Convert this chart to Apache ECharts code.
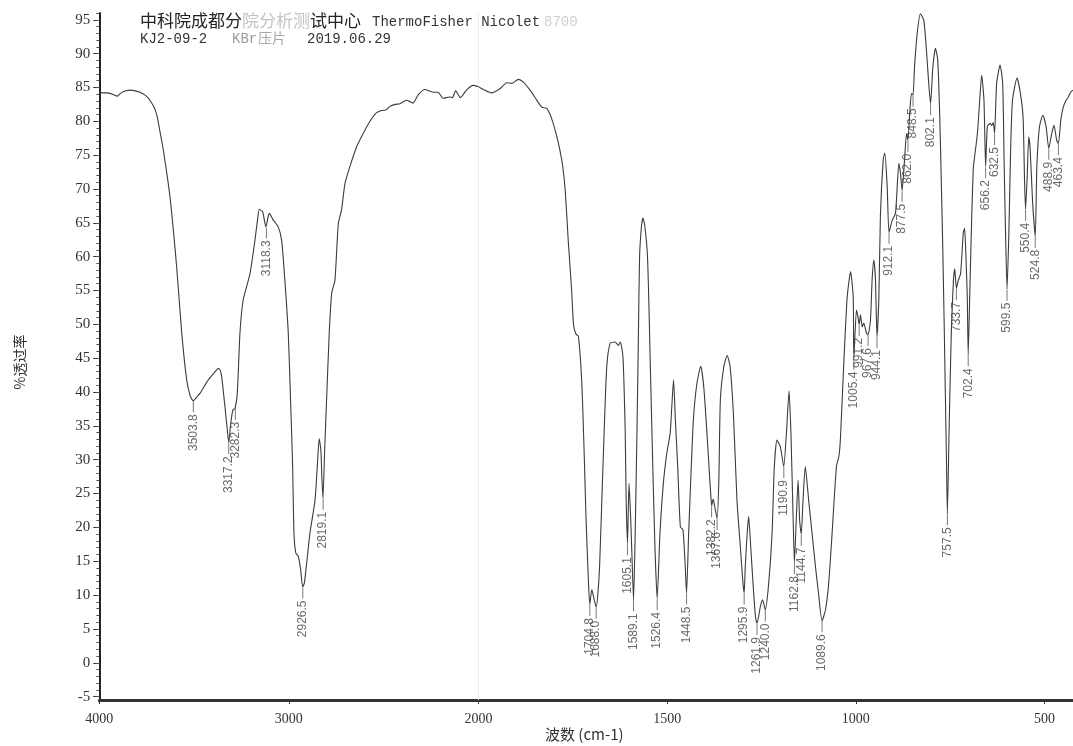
<!DOCTYPE html>
<html><head><meta charset="utf-8">
<script src="https://cdn.jsdelivr.net/npm/echarts@6/dist/echarts.min.js"></script>
<style>html,body{margin:0;padding:0;background:#fff}#c{width:1073px;height:746px}</style>
</head><body><div id="c"></div>
<script>
// Wavenumber (cm-1) and % transmittance
const wavenumbers = [
4000,3985,3960,3930,3905,3885,3860,3838,3810,3785,3760,3740,3733,3715,3697,3680,3662,3627,3592,3565,3539,3520,3504,3485,3469,3445,3425,3395,3372,3362,3354,3337,3325,3317,3308,3296,3284,3272,3258,3241,3205,3179,3165,3156,3138,3121,3110,3103,3082,3056,3038,3021,3003,2991,2980,2973,2963,2950,2938,2927,2918,2906,2889,2862,2850,2840,2831,2826,2820,2811,2801,2787,2774,2757,2739,2722,2704,2678,2643,2608,2572,2540,2511,2485,2467,2440,2414,2379,2360,2344,2318,2283,2239,2213,2186,2151,2137,2120,2095,2063,2029,2000,
1980,1965,1943,1925,1912,1894,1881,1863,1845,1832,1819,1806,1792,1784,1777,1770,1762,1753,1748,1742,1735,1726,1720,1715,1710,1705,1699.5,1694,1688,1683,1679,1673,1667,1660,1651,1638,1629,1624,1617,1611,1608.5,1605,1601,1597,1593.4,1589,1585,1580,1576,1573,1568,1564,1559,1552,1547,1545,1538,1532,1526.4,1519,1510,1501,1492,1488,1483,1478.5,1472,1465,1458,1452,1448.5,1443,1436,1430,1421,1411,1403,1394.5,1388,1384,1382,1378,1373,1367.6,1363,1359,1350,1341,1333,1324,1315,1306,1299,1295.9,1293,1288,1284,1279.6,1272.4,1266,1261.9,1253,1247,1240,1231,1222,1216,1209,1200,1191,1184,1177,1172,1166.3,1162.8,1157.6,1153,1149,1144.7,1140,1134,1125,1116,1107,1099,1089.6,1080.6,1072,1063,1051.5,1045,1041,1032,1023,1014,1007,1005.4,998.4,994,991.2,987.8,983,979,972,967.6,961.3,957,952.5,948,944.1,939,935,927.6,923.3,917,912.1,903.7,895,886,881.7,877.5,871,865.8,862,857,852.6,848.5,844.6,837.5,829,820,813,807,802.1,796,789,783,777.7,774,770,766,763,760,757.5,753,747,741.5,738,733.7,728.6,722.5,715.4,712,709,704.8,702.4,698,693,689,686,678,672,666.7,660.6,656.2,651.7,644.6,640,636,632.5,627,618,611,607,603.4,599.5,594.7,590,585,573,564,557,553,550.4,546,542,538,532,524.8,520.5,513.6,504.6,496,488.9,481,475,468,463.4,457,450.5,443,437,431,425
];
const transmittance = [
84.4,84.2,84.2,84.0,83.7,84.2,84.5,84.6,84.5,84.3,83.9,83.4,83.1,82.3,81.0,78.5,75.7,68.8,58.5,48.7,41.8,39.4,38.7,39.3,39.8,40.9,41.8,42.8,43.5,43.2,42.2,37.8,34.5,32.5,35.0,37.3,37.6,39.8,48.7,53.6,57.5,62.4,65.5,67.0,66.6,64.4,65.8,66.4,65.4,64.4,62.4,56.5,48.7,38.8,29.0,19.1,16.2,15.7,13.8,11.2,11.8,14.7,19.1,24.0,29.0,33.1,31.4,27.5,24.3,31.4,38.8,48.7,54.6,56.5,64.9,66.9,70.8,73.3,76.2,78.2,80.0,81.2,81.6,81.7,82.2,82.5,82.6,83.1,82.9,82.7,83.9,84.7,84.3,84.3,83.4,83.6,83.5,84.5,83.5,84.6,85.3,85.1,
84.5,84.2,84.8,85.7,85.6,86.2,85.8,84.6,83.1,82.1,81.9,80.4,77.7,75.7,73.5,69.8,62.4,55.0,50.0,48.6,48.2,41.3,31.4,21.6,14.2,8.6,10.8,9.5,8.2,10.5,14.2,24.0,33.9,43.7,47.2,47.4,46.9,47.4,45.2,33.9,24.0,17.6,26.5,22.0,16.2,9.3,18.0,33.9,48.7,60.0,64.5,65.7,64.5,60.0,50.0,45.0,29.0,16.6,9.5,19.1,26.5,30.9,33.9,37.5,41.8,36.3,29.0,20.1,19.6,14.2,10.3,19.1,29.0,36.3,41.3,43.8,40.8,33.9,28.0,24.5,23.2,24.2,22.8,21.3,27.0,38.8,43.7,45.4,43.7,36.3,24.0,17.1,11.7,10.3,14.2,19.1,21.6,18.1,11.7,6.8,5.8,8.3,9.3,7.8,11.7,19.1,29.0,32.9,31.9,29.0,33.9,40.2,33.9,21.6,14.8,21.6,27.0,21.1,19.0,24.0,29.0,24.0,19.1,14.2,10.3,6.2,7.8,11.7,19.1,29.0,30.5,33.0,44.2,54.0,57.8,54.0,45.0,52.1,51.0,50.0,51.4,49.6,50.2,48.7,48.5,50.6,56.5,59.5,56.5,48.2,54.0,66.0,74.3,75.3,70.3,63.6,65.4,66.4,73.8,72.3,69.8,74.3,78.2,77.2,81.6,84.1,83.9,88.0,93.0,95.9,94.9,90.5,85.6,82.6,88.0,90.8,89.0,80.6,72.0,62.0,50.0,40.0,30.0,22.0,34.4,49.1,56.5,58.2,55.3,56.5,57.5,63.5,64.2,61.0,54.0,45.5,55.0,66.0,73.0,74.5,78.2,83.0,86.8,83.1,73.3,79.2,79.7,79.4,79.8,78.2,85.6,88.3,85.6,73.3,63.4,55.2,63.4,75.7,83.1,86.4,84.1,80.6,71.0,67.0,72.0,77.7,75.7,68.3,63.0,73.3,79.2,80.9,79.2,76.0,78.2,79.4,77.2,76.7,80.2,82.1,83.1,83.6,84.3,84.6
];
// Labelled peaks
const peakLabels = ["3503.8","3317.2","3282.3","3118.3","2926.5","2819.1","1704.8","1688.0","1605.1","1589.1","1526.4","1448.5","1382.2","1367.6","1295.9","1261.9","1240.0","1190.9","1162.8","1144.7","1089.6","1005.4","991.2","967.6","944.1","912.1","877.5","862.0","848.5","802.1","757.5","733.7","702.4","656.2","632.5","599.5","550.4","524.8","488.9","463.4"];
const peakWavenumbers = [3503.8,3317.2,3282.3,3118.3,2926.5,2819.1,1704.8,1688.0,1605.1,1589.1,1526.4,1448.5,1382.2,1367.6,1295.9,1261.9,1240.0,1190.9,1162.8,1144.7,1089.6,1005.4,991.2,967.6,944.1,912.1,877.5,862.0,848.5,802.1,757.5,733.7,702.4,656.2,632.5,599.5,550.4,524.8,488.9,463.4];
const peakTransmittance = [38.7,32.5,37.6,64.4,11.2,24.3,8.6,8.2,17.6,9.3,9.5,10.3,23.2,21.3,10.3,5.8,7.8,29.0,14.8,19.0,6.2,45.0,50.0,48.5,48.2,63.6,69.8,77.2,83.9,82.6,22.0,55.3,45.5,73.3,78.2,55.2,67.0,63.0,76.0,76.7];
// Axis ticks
const xTicksHigh = [4000,3000,2000];
const xTicksLow = [2000,1500,1000,500];
const xLabelsLow = [1500,1000,500];
const yTicks = [-5,0,5,10,15,20,25,30,35,40,45,50,55,60,65,70,75,80,85,90,95];
const yMinorTicks = [-5,-4,-3,-2,-1,0,1,2,3,4,5,6,7,8,9,10,11,12,13,14,15,16,17,18,19,20,21,22,23,24,25,26,27,28,29,30,31,32,33,34,35,36,37,38,39,40,41,42,43,44,45,46,47,48,49,50,51,52,53,54,55,56,57,58,59,60,61,62,63,64,65,66,67,68,69,70,71,72,73,74,75,76,77,78,79,80,81,82,83,84,85,86,87,88,89,90,91,92,93,94,95,96];

const pairs = wavenumbers.map((w, i) => [w, transmittance[i]]);
const highData = pairs.filter(p => p[0] >= 2000);
const lowData = pairs.filter(p => p[0] <= 2000);
const peaks = peakWavenumbers.map((w, i) => ({ value: [w, peakTransmittance[i]], name: peakLabels[i] }));
const highPeaks = peaks.filter(p => p.value[0] >= 2000);
const lowPeaks = peaks.filter(p => p.value[0] < 2000);

const Y_MIN = -5.5, Y_MAX = 96;
const serif = '"Liberation Serif", "DejaVu Serif", serif';
const cjk = '"Noto Sans CJK SC", sans-serif';
const mono = '"Liberation Mono", "DejaVu Sans Mono", monospace';
const axisTxt = { fontFamily: serif, fontSize: 15, color: '#333', formatter: v => String(v) };

const peakSeries = (data, xi, yi) => ({
  type: 'scatter', xAxisIndex: xi, yAxisIndex: yi, data: data,
  symbol: 'rect', symbolSize: [1, 11], symbolOffset: [0, 6],
  itemStyle: { color: '#555' }, silent: true, z: 3,
  label: { show: true, formatter: '{b}', position: 'bottom', distance: 2, rotate: 90,
    align: 'right', verticalAlign: 'middle',
    fontFamily: '"Liberation Sans", Arial, sans-serif', fontSize: 12, color: '#444' }
});

const chart = echarts.init(document.getElementById('c'), null, { renderer: 'canvas' });
chart.setOption({
  animation: false,
  backgroundColor: '#fff',
  grid: [
    { left: 99.3, top: 13, width: 379.1, height: 687 },
    { left: 478.4, top: 13, width: 594.5, height: 687 }
  ],
  xAxis: [
    { type: 'value', gridIndex: 0, inverse: true, min: 2000, max: 4000,
      axisLine: { show: true, onZero: false, lineStyle: { color: '#333', width: 3 } },
      axisTick: { show: true, customValues: xTicksHigh, length: 4, lineStyle: { color: '#333' } },
      axisLabel: { customValues: xTicksHigh, margin: 12, ...axisTxt, fontSize: 14 },
      splitLine: { show: false } },
    { type: 'value', gridIndex: 1, inverse: true, min: 425, max: 2000,
      axisLine: { show: true, onZero: false, lineStyle: { color: '#333', width: 3 } },
      axisTick: { show: true, customValues: xTicksLow, length: 4, lineStyle: { color: '#333' } },
      axisLabel: { customValues: xLabelsLow, margin: 12, ...axisTxt, fontSize: 14 },
      splitLine: { show: false } }
  ],
  yAxis: [
    { type: 'value', gridIndex: 0, position: 'left', min: Y_MIN, max: Y_MAX,
      axisLine: { show: true, onZero: false, lineStyle: { color: '#222', width: 2 } },
      axisTick: { show: true, customValues: yTicks, length: 6, lineStyle: { color: '#333' } },
      axisLabel: { customValues: yTicks, margin: 9, ...axisTxt },
      splitLine: { show: false } },
    { type: 'value', gridIndex: 0, position: 'left', min: Y_MIN, max: Y_MAX,
      axisLine: { show: false, onZero: false },
      axisTick: { show: true, customValues: yMinorTicks, length: 3, lineStyle: { color: '#555' } },
      axisLabel: { show: false }, splitLine: { show: false } },
    { type: 'value', gridIndex: 1, min: Y_MIN, max: Y_MAX, show: false }
  ],
  series: [
    { type: 'line', xAxisIndex: 0, yAxisIndex: 0, data: highData, showSymbol: false, smooth: 0.2,
      lineStyle: { color: '#3c3c3c', width: 1.1 }, silent: true,
      markLine: { silent: true, symbol: 'none', label: { show: false },
        lineStyle: { color: '#d8d8d8', type: 'dotted', width: 1 }, data: [{ xAxis: 2000 }] } },
    { type: 'line', xAxisIndex: 1, yAxisIndex: 2, data: lowData, showSymbol: false, smooth: 0.2,
      lineStyle: { color: '#3c3c3c', width: 1.1 }, silent: true },
    peakSeries(highPeaks, 0, 0),
    peakSeries(lowPeaks, 1, 2)
  ],
  graphic: [
    { type: 'text', left: 140, top: 12, style: { text: '中科院成都分', font: '17px ' + cjk, fill: '#222' } },
    { type: 'text', left: 242, top: 12, style: { text: '院分析测', font: '17px ' + cjk, fill: '#c4c4c4' } },
    { type: 'text', left: 310, top: 12, style: { text: '试中心', font: '17px ' + cjk, fill: '#222' } },
    { type: 'text', left: 372, top: 15, style: { text: 'ThermoFisher Nicolet', font: '14px ' + mono, fill: '#333' } },
    { type: 'text', left: 544, top: 15, style: { text: '8700', font: '14px ' + mono, fill: '#cfcfcf' } },
    { type: 'text', left: 140, top: 32, style: { text: 'KJ2-09-2', font: '14px ' + mono, fill: '#333' } },
    { type: 'text', left: 232, top: 32, style: { text: 'KBr', font: '14px ' + mono, fill: '#9a9a9a' } },
    { type: 'text', left: 258, top: 31, style: { text: '压片', font: '14px ' + cjk, fill: '#a8a8a8' } },
    { type: 'text', left: 307, top: 32, style: { text: '2019.06.29', font: '14px ' + mono, fill: '#333' } },
    { type: 'text', left: 545, top: 727, style: { text: '波数 (cm-1)', font: '15px ' + cjk, fill: '#333' } },
    { type: 'text', x: 20, y: 362, rotation: Math.PI / 2,
      style: { text: '%透过率', font: '14px ' + cjk, fill: '#333', align: 'center', verticalAlign: 'middle' } }
  ]
});
</script>
</body></html>
